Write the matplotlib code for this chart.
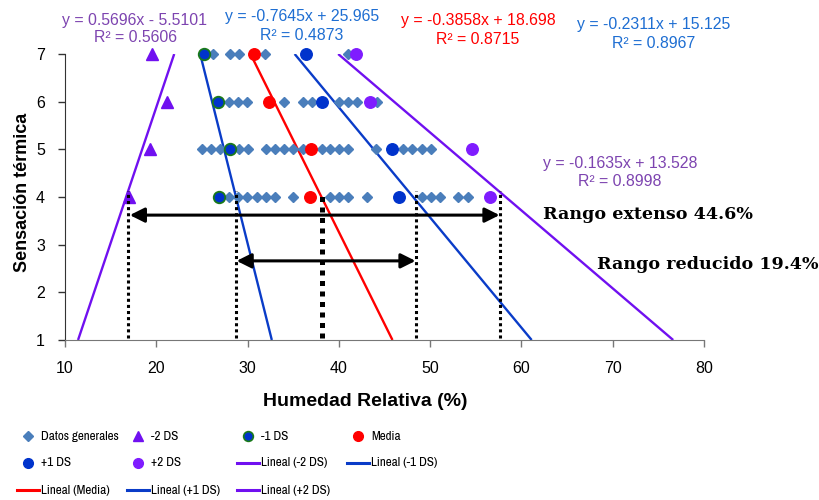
import matplotlib
matplotlib.use("Agg")
import matplotlib.pyplot as plt
from matplotlib.lines import Line2D
from matplotlib import font_manager

# Fonts
SANS = "Liberation Sans"
SERIF = "DejaVu Serif"
plt.rcParams["font.family"] = SANS
installed = {f.name for f in font_manager.fontManager.ttflist}
if "Archivo Narrow" in installed:
    leg_font = dict(family=["Archivo Narrow", SANS], fontsize=9.4)
else:
    leg_font = dict(fontsize=8.6)

# ---- Data ----
niveles = [7, 6, 5, 4]  # sensación térmica
hr_gen_7 = [26.2, 28.1, 29.1, 31.9, 41.0]
hr_gen_6 = [28.0, 29.0, 29.9, 34.0, 36.1, 37.1, 40.0, 41.0, 42.0, 44.2]
hr_gen_5 = [25.0, 26.0, 27.0, 29.1, 30.1, 32.0, 33.0, 34.0, 35.0, 36.1,
            38.1, 39.0, 40.0, 41.0, 44.1, 47.0, 48.0, 49.1, 50.1]
hr_gen_4 = [28.0, 29.0, 29.9, 31.0, 32.0, 33.0, 35.0, 39.0, 40.0, 41.0,
            43.1, 49.1, 50.1, 51.1, 53.1, 54.1]

hr_m2ds = [19.5, 21.2, 19.3, 17.0]
hr_m1ds = [25.2, 26.8, 28.1, 26.9]
hr_media = [30.7, 32.4, 37.0, 36.8]
hr_p1ds = [36.4, 38.1, 45.8, 46.6]
hr_p2ds = [41.9, 43.4, 54.6, 56.6]

# trend lines: y = m x + b
series = ["-2 DS", "-1 DS", "Media", "+1 DS", "+2 DS"]
pendiente = [0.5696, -0.7645, -0.3858, -0.2311, -0.1635]
intercepto = [-5.5101, 25.965, 18.698, 15.125, 13.528]
r2 = [0.5606, 0.4873, 0.8715, 0.8967, 0.8998]

# ranges marked on the chart
rango_x = [16.9, 28.7, 38.1, 48.4, 57.6]
rango_top = 4.12
flecha_larga = (17.1, 57.6, 3.62)
flecha_corta = (28.8, 48.4, 2.66)

VIOLET = "#7010f0"
BLUE = "#0a3cc8"
RED = "#ff0000"
DIAM = "#4a7ebb"
GREEN = "#1a7a1a"
TXT_PURPLE = "#7d44b0"
TXT_BLUE = "#1e6ed2"

fig = plt.figure(figsize=(8.2, 5.0), dpi=100)
W, H = 820, 500
ax = fig.add_axes([65 / W, 1 - 340 / H, (704 - 65) / W, (340 - 54) / H])

# trend lines (drawn across the whole y range)
line_cols = [VIOLET, BLUE, RED, BLUE, VIOLET]
for m, b, c in zip(pendiente, intercepto, line_cols):
    ax.plot([(1 - b) / m, (7 - b) / m], [1, 7], color=c, lw=1.7, zorder=2,
            solid_capstyle="butt")

# general data
for lvl, xs in zip(niveles, [hr_gen_7, hr_gen_6, hr_gen_5, hr_gen_4]):
    ax.plot(xs, [lvl] * len(xs), ls="none", marker="D", ms=5.6, color=DIAM,
            mec=DIAM, zorder=3, clip_on=False)

ax.plot(hr_m2ds, niveles, ls="none", marker="^", ms=8.5, color=VIOLET,
        zorder=4, clip_on=False)
ax.plot(hr_m1ds, niveles, ls="none", marker="o", ms=8.3, mfc="#0033cc",
        mec=GREEN, mew=1.3, zorder=4, clip_on=False)
ax.plot(hr_media, niveles, ls="none", marker="o", ms=8.3, color=RED,
        zorder=4, clip_on=False)
ax.plot(hr_p1ds, niveles, ls="none", marker="o", ms=8.3, color="#0033cc",
        zorder=4, clip_on=False)
ax.plot(hr_p2ds, niveles, ls="none", marker="o", ms=8.3, color="#7f1cff",
        zorder=4, clip_on=False)

# range markers
for i, xv in enumerate(rango_x):
    thick = i == 2
    ax.plot([xv, xv], [1.05, rango_top], color="black",
            lw=3.6 if thick else 2.2,
            ls=(0, (1, 1.1)) if thick else (0, (1, 1)), zorder=5)

for x0, x1, yv in [flecha_larga, flecha_corta]:
    ax.annotate("", xy=(x1, yv), xytext=(x0, yv),
                arrowprops=dict(arrowstyle="<|-|>", color="black", lw=2.2,
                                mutation_scale=22, shrinkA=0, shrinkB=0),
                zorder=6)

ax.text(62.4, 3.63, "Rango extenso 44.6%", fontsize=12.6, fontweight="bold",
        family=SERIF, va="center", ha="left")
ax.text(68.3, 2.58, "Rango reducido 19.4%", fontsize=12.6, fontweight="bold",
        family=SERIF, va="center", ha="left")

ax.set_xlim(10, 80)
ax.set_ylim(1, 7)
ax.set_xticks(range(10, 81, 10))
ax.set_yticks(range(1, 8))
ax.tick_params(labelsize=11.5, direction="out", length=5, width=1)
ax.tick_params(axis="x", pad=10, colors="#777777", labelcolor="black")
ax.tick_params(axis="y", pad=9.5, colors="#333333", labelcolor="black")
for s in ["top", "right"]:
    ax.spines[s].set_visible(False)
ax.spines["left"].set_color("#333333")
ax.spines["bottom"].set_color("#777777")

ax.set_xlabel("Humedad Relativa (%)", fontsize=14, fontweight="bold", va="center")
ax.set_ylabel("Sensación térmica", fontsize=13, fontweight="bold", va="center")
ax.xaxis.set_label_coords((365 - 65) / 639, -(401 - 340) / 286)
ax.yaxis.set_label_coords((23 - 65) / 639, (340 - 192) / 286)

# equation labels (figure pixel positions of centers)
eq_pos = [(135, 20, 37), (302, 17, 36), (478, 21, 40), (654, 25, 43), (620, 163, 182)]
eq_col = [TXT_PURPLE, TXT_BLUE, RED, TXT_BLUE, TXT_PURPLE]
for m, b, r, (px, py1, py2), c in zip(pendiente, intercepto, r2, eq_pos, eq_col):
    sign = "+" if b >= 0 else "-"
    fig.text(px / W, 1 - py1 / H, f"y = {m:g}x {sign} {abs(b):g}",
             ha="center", va="center", fontsize=11.4, color=c)
    fig.text(px / W, 1 - py2 / H, f"R² = {r:.4f}", ha="center", va="center",
             fontsize=11.4, color=c)

# legend, laid out like the original (3 rows x 4 columns)
entries = [
    ("Datos generales", dict(ls="none", marker="D", ms=5, color=DIAM)),
    ("-2 DS", dict(ls="none", marker="^", ms=7, color=VIOLET)),
    ("-1 DS", dict(ls="none", marker="o", ms=7, mfc="#0033cc", mec=GREEN, mew=1.2)),
    ("Media", dict(ls="none", marker="o", ms=7, color=RED)),
    ("+1 DS", dict(ls="none", marker="o", ms=7, color="#0033cc")),
    ("+2 DS", dict(ls="none", marker="o", ms=7, color="#7f1cff")),
    ("Lineal (-2 DS)", dict(color=VIOLET, lw=2.2)),
    ("Lineal (-1 DS)", dict(color=BLUE, lw=2.2)),
    ("Lineal (Media)", dict(color=RED, lw=2.2)),
    ("Lineal (+1 DS)", dict(color=BLUE, lw=2.2)),
    ("Lineal (+2 DS)", dict(color=VIOLET, lw=2.2)),
]
col_x = [17, 127, 237, 347]
row_y = [436, 463, 490]
for k, (label, style) in enumerate(entries):
    r, c = divmod(k, 4)
    x0, y0 = col_x[c], row_y[r]
    if style.get("ls") == "none":
        fig.add_artist(Line2D([(x0 + 11) / W], [1 - y0 / H], **style))
    else:
        fig.add_artist(Line2D([x0 / W, (x0 + 22) / W], [1 - y0 / H] * 2, **style))
    fig.text((x0 + 24) / W, 1 - y0 / H, label, ha="left", va="center", **leg_font)

fig.savefig("out.png", dpi=100)
